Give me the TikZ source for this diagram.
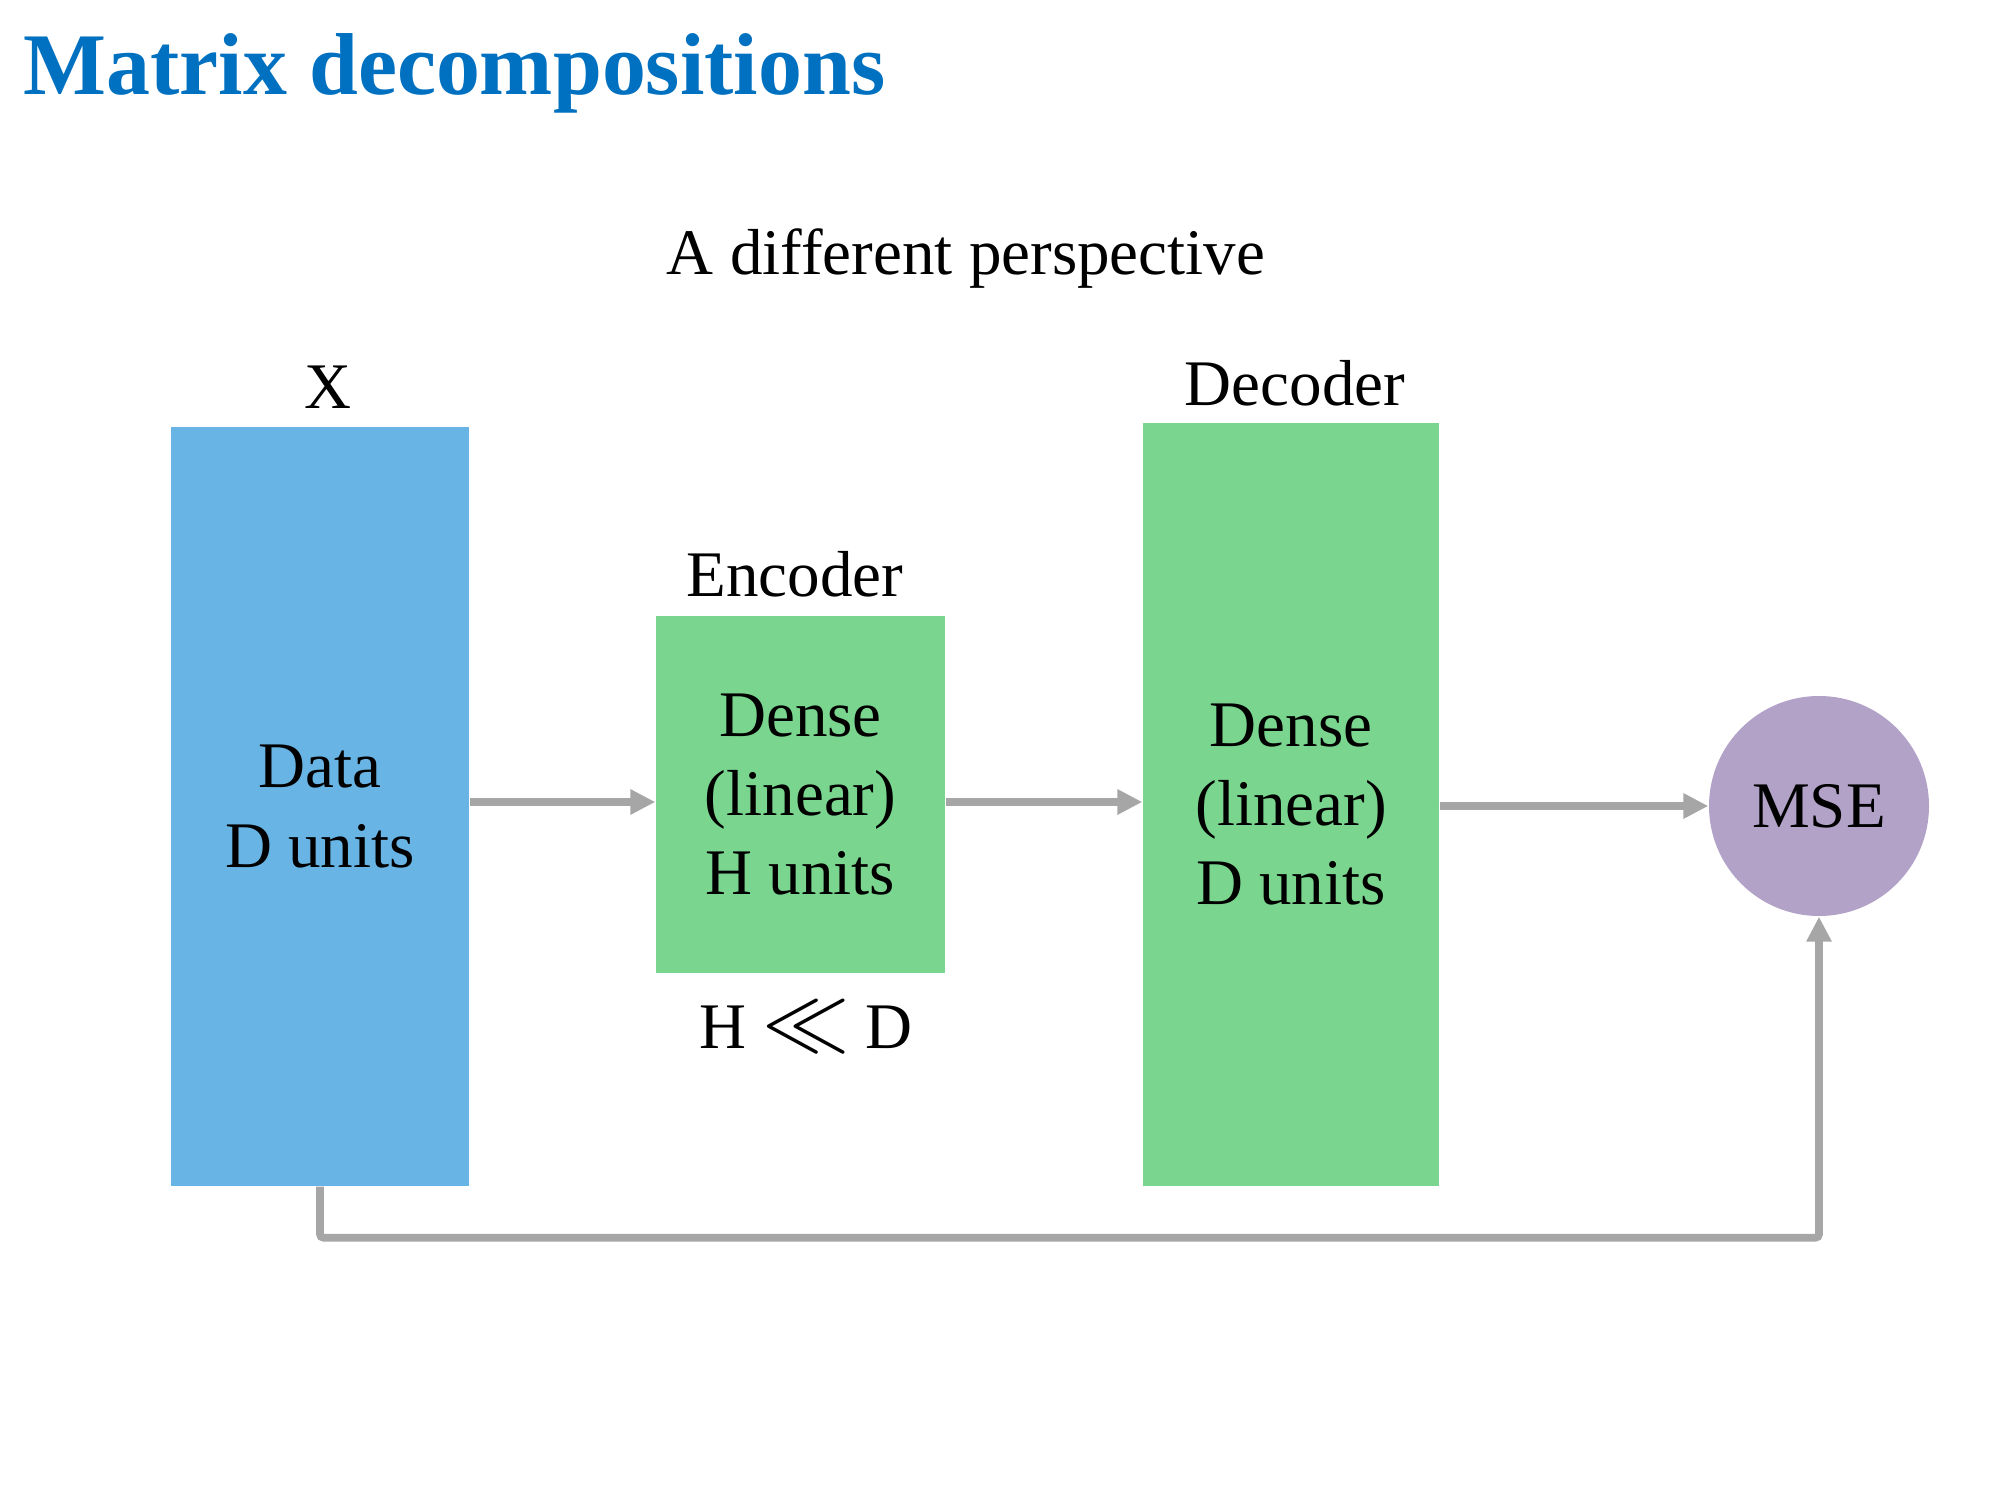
\documentclass[tikz,border=0pt]{standalone}
\usepackage{fontspec}
\setmainfont{Liberation Serif}
\usepackage{tikz}
\usetikzlibrary{arrows.meta, positioning}
\definecolor{color1}{RGB}{0,112,192}
\definecolor{color2}{RGB}{103,180,229}
\definecolor{color3}{RGB}{122,213,143}
\definecolor{color4}{RGB}{178,162,199}
\definecolor{color5}{RGB}{166,166,166}

\begin{document}
\begin{tikzpicture}[box/.style = {rectangle, inner sep=0pt, align=center, font=\fontsize{18.5}{22.5}\selectfont},
                    txt/.style = {anchor=base, inner sep=0pt, font=\fontsize{18.5}{22.5}\selectfont},
                    arr/.style = {line width = 2.2pt, color5, -{Triangle[length=0.25cm, width=0.24cm]}}]
                \useasboundingbox (0,0) rectangle (20,15);

                \node[anchor=base west, inner sep=0pt, text=color1, font=\fontsize{25}{30}\selectfont\bfseries] (title) at (0.23,14.05) {Matrix decompositions};
                \node[txt] (persp) at (9.66,12.25) {A different perspective};

                \node[box, fill=color2, minimum width=2.98cm, minimum height=7.59cm] (data) at (3.20,6.935) {Data\\D units};
                \node[box, fill=color3, minimum width=2.89cm, minimum height=3.57cm] (enc) at (8.005,7.055) {Dense\\(linear)\\H units};
                \node[box, fill=color3, minimum width=2.96cm, minimum height=7.63cm] (dec) at (12.91,6.955) {Dense\\(linear)\\D units};
                \node[box, circle, fill=color4, minimum size=2.2cm] (mse) at (18.19,6.94) {MSE};

                \node[txt] (xlabel) at (3.28,10.91) {X};
                \node[txt] (enclabel) at (7.95,9.03) {Encoder};
                \node[txt] (declabel) at (12.95,10.94) {Decoder};
                \node[txt] (cond) at (8.06,4.52) {H {\fontsize{23}{23}\selectfont$\ll$} D};

                \coordinate (mid) at (0,6.98);
                \draw[arr] (data.east |- mid) -- (enc.west |- mid);
                \draw[arr] (enc.east |- mid) -- (dec.west |- mid);
                \draw[arr] (dec.east |- mse.west) -- (mse.west);
                \draw[arr, rounded corners=1pt] (data.south) -- ++(0,-0.51) -| (mse.south);

\end{tikzpicture}
\end{document}
